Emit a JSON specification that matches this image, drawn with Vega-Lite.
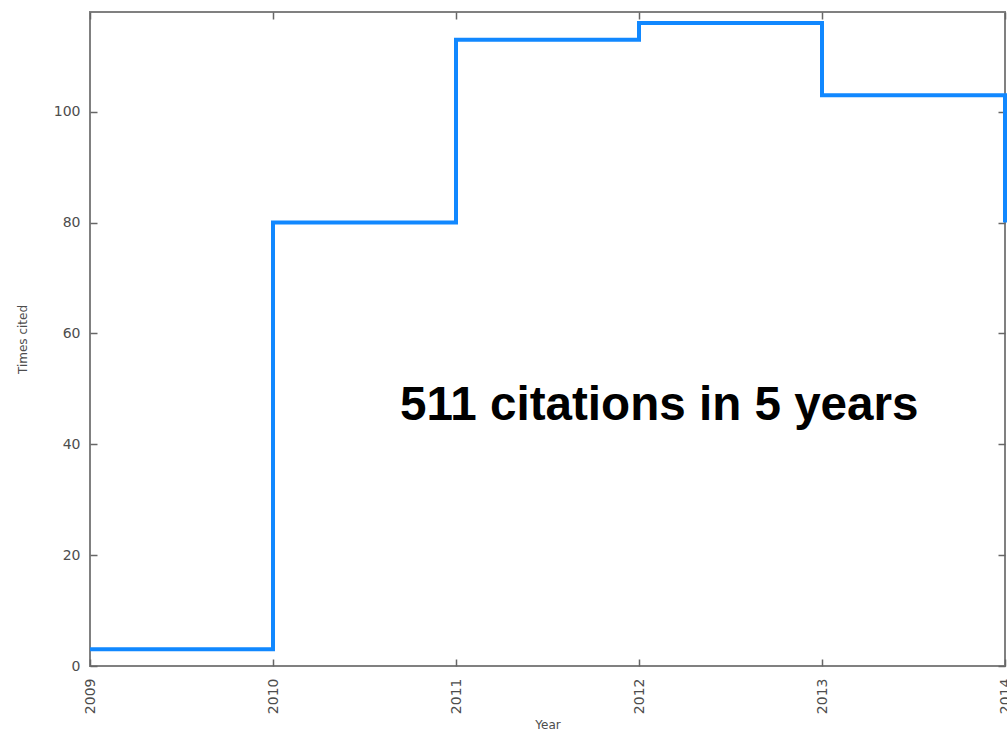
{
  "$schema": "https://vega.github.io/schema/vega-lite/v6.json",
  "autosize": "none",
  "width": 915,
  "height": 654,
  "padding": {"left": 90, "top": 12, "right": 2, "bottom": 68},
  "background": "white",
  "view": {"stroke": "#808080", "strokeWidth": 2},
  "config": {
    "font": "DejaVu Sans",
    "axis": {
      "grid": false,
      "domain": false,
      "tickColor": "#666666",
      "tickWidth": 1.5,
      "tickSize": -7,
      "labelColor": "#4d4d4d",
      "labelFont": "DejaVu Sans",
      "labelFontSize": 14,
      "titleColor": "#4d4d4d",
      "titleFont": "DejaVu Sans",
      "titleFontSize": 12,
      "titleFontWeight": "normal"
    }
  },
  "layer": [
    {
      "data": {"values": [
        {"year": 2009, "cites": 3},
        {"year": 2010, "cites": 80},
        {"year": 2011, "cites": 113},
        {"year": 2012, "cites": 116},
        {"year": 2013, "cites": 103},
        {"year": 2014, "cites": 80}
      ]},
      "mark": {"type": "line", "interpolate": "step-after", "color": "#1188ff", "strokeWidth": 4, "clip": false},
      "encoding": {
        "x": {"field": "year", "type": "quantitative",
              "scale": {"domain": [2009, 2014], "nice": false, "zero": false},
              "axis": {"orient": "bottom", "title": "Year", "values": [2009, 2010, 2011, 2012, 2013, 2014], "format": "d", "labelAngle": 270, "labelPadding": 19, "titlePadding": 6, "labelFlush": false, "labelOverlap": false}},
        "y": {"field": "cites", "type": "quantitative",
              "scale": {"domain": [0, 118], "nice": false},
              "axis": {"orient": "left", "title": "Times cited", "values": [0, 20, 40, 60, 80, 100], "labelPadding": 17, "titlePadding": 24, "labelFlush": false}}
      }
    },
    {
      "data": {"values": [
        {"year": 2010.694, "cites": 44.3, "label": "511 citations in 5 years"}
      ]},
      "mark": {"type": "text", "align": "left", "baseline": "alphabetic", "font": "Liberation Sans", "fontWeight": "bold", "fontSize": 47.6, "color": "#000000"},
      "encoding": {
        "x": {"field": "year", "type": "quantitative",
              "axis": {"orient": "top", "title": null, "labels": false, "values": [2009, 2010, 2011, 2012, 2013, 2014]}},
        "y": {"field": "cites", "type": "quantitative",
              "axis": {"orient": "right", "title": null, "labels": false, "values": [0, 20, 40, 60, 80, 100]}},
        "text": {"field": "label"}
      }
    }
  ],
  "resolve": {"axis": {"x": "independent", "y": "independent"}}
}
